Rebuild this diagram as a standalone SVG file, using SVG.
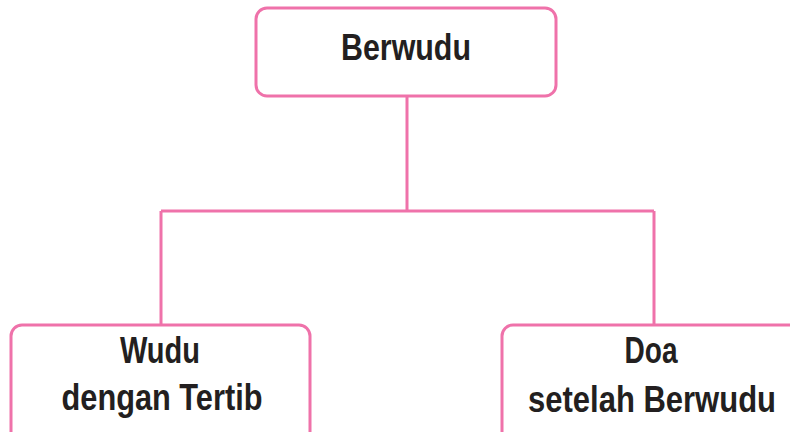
<svg xmlns="http://www.w3.org/2000/svg" width="790" height="432" viewBox="0 0 790 432">
<style>
.box{fill:#fff;stroke:#ef72aa;stroke-width:3}
.ln{fill:none;stroke:#ef72aa;stroke-width:3}
.t{font-family:"Liberation Sans",Arial,sans-serif;font-weight:bold;font-size:37px;fill:#231f20;text-anchor:middle}
</style>
<rect width="790" height="432" fill="#fff"/>
<g id="connectors">
<path class="ln" d="M407 96 V211 M161 211 H654 M161 211 V325 M654 211 V325"/>
</g>
<g id="node-berwudu">
<rect class="box" x="256" y="8" width="300" height="88" rx="11"/>
<text class="t" x="406" y="60" textLength="130" lengthAdjust="spacingAndGlyphs">Berwudu</text>
</g>
<g id="node-wudu">
<rect class="box" x="11" y="325" width="299" height="130" rx="11"/>
<text class="t" x="160" y="363" textLength="80" lengthAdjust="spacingAndGlyphs">Wudu</text>
<text class="t" x="162" y="410" textLength="201" lengthAdjust="spacingAndGlyphs">dengan Tertib</text>
</g>
<g id="node-doa">
<rect class="box" x="502" y="325" width="320" height="130" rx="11"/>
<text class="t" x="651" y="363" textLength="53" lengthAdjust="spacingAndGlyphs">Doa</text>
<text class="t" x="652" y="412" textLength="248" lengthAdjust="spacingAndGlyphs">setelah Berwudu</text>
</g>
</svg>
